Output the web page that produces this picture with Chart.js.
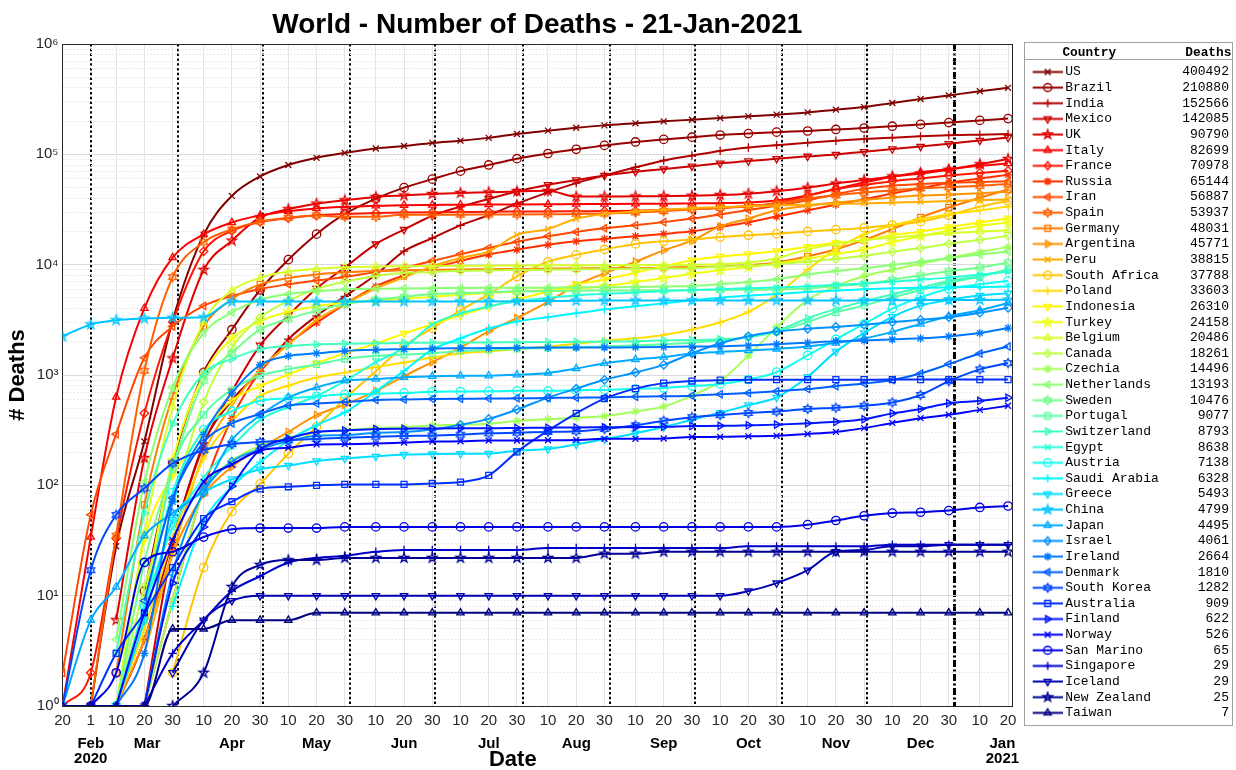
<!DOCTYPE html>
<html>
<head>
<meta charset="utf-8">
<script src="https://cdn.jsdelivr.net/npm/chart.js@4.4.1/dist/chart.umd.min.js"></script>
<style>
html,body{margin:0;padding:0;background:#fff;}
#wrap{width:1236px;height:770px;}
</style>
</head>
<body>
<div id="wrap"><canvas id="c" width="1236" height="770"></canvas></div>
<script>
// ---------------- DATA ----------------
const countries = ['US','Brazil','India','Mexico','UK','Italy','France','Russia','Iran','Spain','Germany','Argentina','Peru','South Africa','Poland','Indonesia','Turkey','Belgium','Canada','Czechia','Netherlands','Sweden','Portugal','Switzerland','Egypt','Austria','Saudi Arabia','Greece','China','Japan','Israel','Ireland','Denmark','South Korea','Australia','Finland','Norway','San Marino','Singapore','Iceland','New Zealand','Taiwan'];
const finalDeaths = [400492,210880,152566,142085,90790,82699,70978,65144,56887,53937,48031,45771,38815,37788,33603,26310,24158,20486,18261,14496,13193,10476,9077,8793,8638,7138,6328,5493,4799,4495,4061,2664,1810,1282,909,622,526,65,29,29,25,7];

const sampleDates = ['2020-02-20','2020-03-01','2020-03-10','2020-03-20','2020-03-30','2020-04-10','2020-04-20','2020-04-30','2020-05-10','2020-05-20','2020-05-30','2020-06-10','2020-06-20','2020-06-30','2020-07-10','2020-07-20','2020-07-30','2020-08-10','2020-08-20','2020-08-30','2020-09-10','2020-09-20','2020-09-30','2020-10-10','2020-10-20','2020-10-30','2020-11-10','2020-11-20','2020-11-30','2020-12-10','2020-12-20','2020-12-30','2021-01-10','2021-01-20'];

const d_US = [null, 1,28,250,3100, 18700,42000,63000, 80000,93000,103000, 113000,119000,127000, 133000,141000,153000, 164000,174000,183000, 191000,199000,206000, 213000,221000,229000, 240000,254000,268000, 292000,317000,342000, 373000,400492];
const d_Brazil = [null, null,null,11,159, 1057,2575,5900, 11100,18900,28800, 39700,49900,59600, 70400,80100,91300, 101800,111100,120500, 129500,136500,143000, 149600,154200,158900, 162800,168100,173100, 179800,186800,193900, 203100,210880];
const d_India = [null, null,1,4,32, 239,590,1075, 2110,3435,5160, 8100,13250,17400, 22700,28100,35700, 45250,54850,64470, 76270,87880,97500, 107400,115200,121100, 127600,132700,137600, 141700,145500,148700, 150800,152566];
const d_Mexico = [null, null,null,1,28, 233,712,1859, 3465,6090,9415, 15357,20781,27769, 33526,39485,46000, 53003,58481,64158, 69649,73697,78078, 83096,86893,91289, 95842,99528,105655, 111655,117876,124897, 133706,142085];
const d_UK = [null, null,6,177,1415, 8958,16509,26771, 31855,35704,38376, 41128,42461,43730, 44650,45312,46084, 46700,41400,41500, 41600,41800,42100, 42800,44000,46300, 49800,54400,58400, 63100,67100,72500, 81400,90790];
const d_Italy = [1, 34,631,4032,11591, 18849,24114,27967, 30560,32330,33340, 34114,34634,34767, 34938,35058,35132, 35209,35412,35477, 35587,35692,35894, 36111,36616,38122, 42330,48569,55576, 62626,68799,73604, 78755,82699];
const d_France = [1, 2,33,450,3024, 13197,20265,24376, 26383,28022,28774, 29322,29640,29843, 29982,30165,30268, 30340,30480,30610, 30800,31250,31960, 32680,33620,36020, 42200,48518,52819, 57000,60500,64200, 67700,70978];
const d_Russia = [null, null,null,1,9, 94,405,1073, 1915,2972,4374, 6358,7972,9306, 10826,12342,13673, 15131,16268,17128, 18080,19006,20056, 21939,24187,27301, 31161,34850,39068, 44159,49151,55265, 60457,65144];
const d_Iran = [2, 54,291,1433,2757, 4232,5209,6028, 6640,7183,7734, 8584,9392,10817, 12447,14188,16147, 18132,19804,21359, 22798,24301,26169, 28544,31346,34113, 38291,43417,48628, 51949,53816,55223, 56262,56887];
const d_Spain = [null, 1,35,1093,7716, 15970,20852,24543, 26621,27888,27125, 27136,28315,28355, 28403,28422,28445, 28576,28813,29011, 29699,30495,31791, 32688,34210,35878, 39756,42619,45069, 47019,49260,50442, 51874,53937];
const d_Germany = [null, null,2,67,645, 2767,4862,6623, 7549,8144,8530, 8767,8882,8976, 9063,9090,9141, 9201,9260,9302, 9342,9390,9534, 9637,9875,10459, 11912,13805,16694, 20970,26813,32946, 40343,48031];
const d_Argentina = [null, null,1,4,24, 82,147,218, 305,433,539, 717,979,1307, 1774,2491,3288, 4606,6517,8353, 10658,13482,16519, 22226,26107,31140, 34183,36532,38473, 40606,42254,43163, 44417,45771];
const d_Peru = [null, null,null,3,24, 193,530,1124, 1889,3148,4371, 6109,7660,9677, 11500,13187,18612, 21072,26075,28788, 30344,31474,32396, 33357,33875,34411, 34993,35402,35923, 36499,37034,37680, 38476,38815];
const d_SouthAfrica = [null, null,null,null,2, 18,58,103, 194,339,611, 1080,1831,2657, 3860,5368,7812, 10621,12264,13743, 15427,16283,16866, 17780,18492,19111, 20011,20759,21535, 22874,24539,28033, 33579,37788];
const d_Poland = [null, null,1,5,33, 174,380,644, 799,948,1051, 1183,1298,1444, 1567,1636,1716, 1809,1917,2035, 2153,2309,2573, 3003,3730,5351, 9037,13774,18828, 22676,25964,28554, 31011,33603];
const d_Indonesia = [null, null,1,32,122, 306,590,792, 1007,1278,1573, 1923,2373,2876, 3469,4143,4838, 5723,6594,7343, 8456,9677,10972, 11844,12511,13299, 14540,15774,16646, 18511,19880,21944, 24129,26310];
const d_Turkey = [null, null,null,9,168, 1006,2140,3081, 3739,4199,4515, 4746,4905,5131, 5344,5526,5691, 5873,6058,6370, 6951,7582,8262, 8895,9513,10252, 11326,12511,13746, 15977,18097,20388, 22450,24158];
const d_Belgium = [null, null,1,37,513, 3019,5828,7594, 8656,9186,9453, 9629,9696,9747, 9781,9800,9830, 9859,9900,9901, 9917,9944,10001, 10099,10443,11452, 13762,15492,16645, 17608,18371,19234, 19973,20486];
const d_Canada = [null, null,1,12,75, 569,1772,3321, 4697,6029,7001, 7912,8408,8591, 8790,8874,8931, 8981,9068,9117, 9163,9228,9297, 9585,9794,10110, 10632,11265,12032, 13109,14154,15472, 16832,18261];
const d_Czechia = [null, null,null,1,9, 88,166,227, 270,302,317, 331,336,349, 354,362,383, 398,410,424, 467,518,651, 880,1500,2700, 4800,6400,7900, 9000,10200,11500, 13000,14496];
const d_Netherlands = [null, null,4,107,772, 2399,3691,4811, 5424,5734,5962, 6053,6095,6113, 6157,6173,6183, 6190,6229,6250, 6280,6326,6400, 6660,6934,7382, 8134,8749,9303, 9906,10624,11494, 12390,13193];
const d_Sweden = [null, null,1,20,146, 887,1580,2586, 3220,3831,4395, 4814,5122,5411, 5500,5619,5730, 5766,5810,5821, 5843,5865,5880, 5893,5918,5947, 6082,6406,6681, 7296,7993,8727, 9433,10476];
const d_Portugal = [null, null,null,6,140, 435,735,989, 1126,1247,1396, 1492,1530,1576, 1646,1689,1727, 1756,1785,1818, 1855,1899,1963, 2050,2198,2468, 3021,3701,4276, 5044,5902,6830, 7803,9077];
const d_Switzerland = [null, null,3,56,359, 1036,1399,1716, 1830,1891,1919, 1936,1956,1962, 1966,1969,1981, 1991,1997,2010, 2023,2060,2073, 2105,2198,2512, 3271,3972,4646, 5403,6189,7100, 7874,8793];
const d_Egypt = [null, null,1,8,41, 118,224,392, 513,645,879, 1306,1766,2872, 3617,4188,4652, 5009,5262,5440, 5580,5750,5901, 6000,6110,6220, 6361,6572,6750, 7000,7302,7631, 8136,8638];
const d_Austria = [null, null,1,8,86, 319,470,584, 614,640,668, 676,688,705, 708,711,718, 719,728,733, 750,763,794, 830,910,1063, 1504,2107,2900, 4000,5050,6040, 6630,7138];
const d_SaudiArabia = [null, null,null,null,8, 47,97,162, 255,351,458, 712,1091,1698, 2151,2635,3055, 3338,3636,3929, 4199,4458,4768, 5018,5255,5420, 5659,5825,5990, 6105,6181,6233, 6283,6328];
const d_Greece = [null, null,1,6,49, 86,114,140, 151,166,175, 183,190,192, 193,194,206, 213,235,262, 297,338,393, 455,534,626, 963,1630,2406, 3370,4257,4788, 5263,5493];
const d_China = [2236, 2872,3139,3253,3309, 3339,4636,4637, 4637,4638,4638, 4640,4640,4641, 4641,4646,4661, 4682,4704,4723, 4733,4737,4739, 4739,4739,4740, 4742,4742,4746, 4752,4764,4779, 4791,4799];
const d_Japan = [1, 6,12,35,56, 94,257,430, 624,771,890, 919,955,972, 982,985,1004, 1045,1143,1279, 1380,1456,1565, 1622,1665,1724, 1812,1950,2139, 2459,2900,3414, 3865,4495];
const d_Israel = [null, null,null,1,16, 86,164,212, 252,281,285, 300,304,320, 354,400,486, 624,752,904, 1054,1236,1571, 1941,2245,2475, 2625,2727,2854, 3019,3161,3338, 3673,4061];
const d_Ireland = [null, null,1,3,71, 288,687,1232, 1488,1571,1652, 1695,1714,1736, 1746,1753,1763, 1773,1775,1777, 1781,1792,1810, 1817,1852,1902, 1965,2022,2050, 2099,2149,2237, 2397,2664];
const d_Denmark = [null, null,null,9,77, 247,364,443, 529,551,568, 593,600,605, 609,611,615, 619,623,626, 635,641,650, 670,687,712, 745,792,836, 901,1030,1255, 1564,1810];
const d_SouthKorea = [1, 17,54,94,158, 208,236,247, 256,263,270, 276,280,282, 288,296,300, 305,309,324, 350,385,415, 433,453,466, 492,505,526, 564,659,879, 1125,1282];
const d_Australia = [null, 1,3,7,18, 50,71,93, 97,100,102, 102,102,104, 107,123,201, 313,450,611, 753,844,882, 898,905,907, 907,907,907, 908,908,909, 909,909];
const d_Finland = [null, null,null,1,13, 42,98,211, 265,304,314, 324,326,328, 329,329,331, 333,335,336, 337,339,345, 346,350,355, 365,376,397, 449,492,555, 583,622];
const d_Norway = [null, null,1,7,32, 108,154,207, 219,235,236, 239,244,249, 251,255,255, 256,258,264, 264,266,274, 275,278,281, 292,305,330, 368,406,436, 483,526];
const d_SanMarino = [null, 1,2,20,25, 34,40,41, 41,41,42, 42,42,42, 42,42,42, 42,42,42, 42,42,42, 42,42,42, 44,48,53, 56,57,59, 63,65];
const d_Singapore = [null, null,null,1,3, 6,11,15, 20,22,23, 25,26,26, 26,26,26, 27,27,27, 27,27,27, 27,28,28, 28,28,28, 29,29,29, 29,29];
const d_Iceland = [null, null,null,null,2, 6,9,10, 10,10,10, 10,10,10, 10,10,10, 10,10,10, 10,10,10, 10,11,13, 17,25,26, 28,28,29, 29,29];
const d_NewZealand = [null, null,null,null,1, 2,12,19, 21,21,22, 22,22,22, 22,22,22, 22,22,24, 24,25,25, 25,25,25, 25,25,25, 25,25,25, 25,25];
const d_Taiwan = [1, 1,1,1,5, 5,6,6, 6,7,7, 7,7,7, 7,7,7, 7,7,7, 7,7,7, 7,7,7, 7,7,7, 7,7,7, 7,7];

const deathSeries = [d_US,d_Brazil,d_India,d_Mexico,d_UK,d_Italy,d_France,d_Russia,d_Iran,d_Spain,d_Germany,d_Argentina,d_Peru,d_SouthAfrica,d_Poland,d_Indonesia,d_Turkey,d_Belgium,d_Canada,d_Czechia,d_Netherlands,d_Sweden,d_Portugal,d_Switzerland,d_Egypt,d_Austria,d_SaudiArabia,d_Greece,d_China,d_Japan,d_Israel,d_Ireland,d_Denmark,d_SouthKorea,d_Australia,d_Finland,d_Norway,d_SanMarino,d_Singapore,d_Iceland,d_NewZealand,d_Taiwan];

// axis ticks
const tickDates = ['2020-02-20','2020-03-01','2020-03-10','2020-03-20','2020-03-30','2020-04-10','2020-04-20','2020-04-30','2020-05-10','2020-05-20','2020-05-30','2020-06-10','2020-06-20','2020-06-30','2020-07-10','2020-07-20','2020-07-30','2020-08-10','2020-08-20','2020-08-30','2020-09-10','2020-09-20','2020-09-30','2020-10-10','2020-10-20','2020-10-30','2020-11-10','2020-11-20','2020-11-30','2020-12-10','2020-12-20','2020-12-30','2021-01-10','2021-01-20'];
const tickLabels = ['20','1','10','20','30','10','20','30','10','20','30','10','20','30','10','20','30','10','20','30','10','20','30','10','20','30','10','20','30','10','20','30','10','20'];
const monthStartDates = ['2020-03-01','2020-04-01','2020-05-01','2020-06-01','2020-07-01','2020-08-01','2020-09-01','2020-10-01','2020-11-01','2020-12-01'];
const yearStartDate = '2021-01-01';
const monthLabelDates = ['2020-03-01','2020-03-21','2020-04-20','2020-05-20','2020-06-20','2020-07-20','2020-08-20','2020-09-20','2020-10-20','2020-11-20','2020-12-20','2021-01-18'];
const monthLabels = [['Feb','2020'],'Mar','Apr','May','Jun','Jul','Aug','Sep','Oct','Nov','Dec',['Jan','2021']];
const yDecadeLabels = ['10\u2070','10\u00b9','10\u00b2','10\u00b3','10\u2074','10\u2075','10\u2076'];
const markerCycle = ['x','o','+','v','p','^','d','*','<','h','s','>'];

// ---------------- HELPERS ----------------
const dayOf = s => { const [y,m,d] = s.split('-').map(Number); return Math.round((Date.UTC(y,m-1,d) - Date.UTC(2020,1,20)) / 864e5); };
const sampleDays = sampleDates.map(dayOf);
const monthStartDays = monthStartDates.map(dayOf);
const yearStartDay = dayOf(yearStartDate);
const xMin = 0, xMax = 336.4;

const xLabelMap = new Map();
monthStartDays.forEach(d => xLabelMap.set(d, ''));
xLabelMap.set(yearStartDay, '');
tickDates.forEach((s, i) => xLabelMap.set(dayOf(s), tickLabels[i]));
const xTickItems = [...xLabelMap.keys()].sort((a,b)=>a-b).map(v => ({value: v}));

const monthMap = new Map();
monthLabelDates.forEach((s, i) => monthMap.set(dayOf(s), monthLabels[i]));
const monthTickItems = [...monthMap.keys()].map(v => ({value: v}));

const yTickItems = [];
for (let e = 0; e < 6; e++) for (let s = 1; s <= 9; s++) yTickItems.push({value: s * Math.pow(10, e), major: s === 1});
yTickItems.push({value: 1e6, major: true});
const isPow10 = v => Math.abs(Math.log10(v) - Math.round(Math.log10(v))) < 1e-9;

function jet(t) {
  const c = v => Math.round(255 * Math.max(0, Math.min(1, v)));
  return 'rgb(' + c(1.5 - Math.abs(4*t - 3)) + ',' + c(1.5 - Math.abs(4*t - 2)) + ',' + c(1.5 - Math.abs(4*t - 1)) + ')';
}

function drawMarker(ctx, m, x, y, r) {
  ctx.beginPath();
  const poly = pts => { pts.forEach((p, i) => i ? ctx.lineTo(p[0], p[1]) : ctx.moveTo(p[0], p[1])); ctx.closePath(); };
  const star = (n, ro, ri) => { const pts = []; for (let k = 0; k < 2*n; k++) { const a = -Math.PI/2 + k*Math.PI/n; const rr = k % 2 ? ri : ro; pts.push([x + rr*Math.cos(a), y + rr*Math.sin(a)]); } poly(pts); };
  const tri = deg => { const pts = []; for (let k = 0; k < 3; k++) { const a = (deg - 90 + k*120) * Math.PI/180; pts.push([x + r*Math.cos(a), y + r*Math.sin(a)]); } poly(pts); };
  const q = r * 0.72;
  switch (m) {
    case 'x': ctx.moveTo(x-q,y-q); ctx.lineTo(x+q,y+q); ctx.moveTo(x+q,y-q); ctx.lineTo(x-q,y+q); break;
    case '+': ctx.moveTo(x-r,y); ctx.lineTo(x+r,y); ctx.moveTo(x,y-r); ctx.lineTo(x,y+r); break;
    case '*': ctx.moveTo(x-r,y); ctx.lineTo(x+r,y); ctx.moveTo(x,y-r); ctx.lineTo(x,y+r); ctx.moveTo(x-q,y-q); ctx.lineTo(x+q,y+q); ctx.moveTo(x+q,y-q); ctx.lineTo(x-q,y+q); break;
    case 'o': ctx.arc(x, y, r, 0, 2*Math.PI); break;
    case 's': ctx.rect(x-q, y-q, 2*q, 2*q); break;
    case 'd': poly([[x,y-r],[x+r*0.8,y],[x,y+r],[x-r*0.8,y]]); break;
    case '^': tri(0); break;
    case '>': tri(90); break;
    case 'v': tri(180); break;
    case '<': tri(270); break;
    case 'p': star(5, r*1.15, r*0.45); break;
    case 'h': star(6, r*1.05, r*0.6); break;
  }
  ctx.stroke();
}

function markerImage(m, color) {
  const cv = document.createElement('canvas'); cv.width = 14; cv.height = 14;
  const g = cv.getContext('2d'); g.strokeStyle = color; g.lineWidth = 1.3;
  drawMarker(g, m, 7, 7, 4.3);
  return cv;
}
function legendIcon(m, color) {
  // 40px wide: left 10px kept empty so the visible sample sits closer to the text
  const cv = document.createElement('canvas'); cv.width = 40; cv.height = 13;
  const g = cv.getContext('2d'); g.strokeStyle = color; g.lineWidth = 2;
  g.beginPath(); g.moveTo(10, 6.5); g.lineTo(40, 6.5); g.stroke();
  g.lineWidth = 1.5; drawMarker(g, m, 25, 6.5, 4);
  return cv;
}

const styleMap = { 'x':['crossRot',0], 'o':['circle',0], '+':['cross',0], 'v':['triangle',180], '^':['triangle',0], 'd':['rectRot',0], '*':['star',0], '<':['triangle',270], 's':['rect',0], '>':['triangle',90] };

const N = countries.length;
const colors = countries.map((c, i) => jet(1 - i/(N-1)));
const markers = countries.map((c, i) => markerCycle[i % markerCycle.length]);
const legendIcons = countries.map((c, i) => legendIcon(markers[i], colors[i]));

const datasets = deathSeries.map((vals, i) => {
  const m = markers[i], sm = styleMap[m];
  return {
    label: countries[i],
    data: vals.map((v, k) => ({x: sampleDays[k], y: v})),
    borderColor: colors[i],
    backgroundColor: colors[i],
    borderWidth: 2,
    pointStyle: sm ? sm[0] : markerImage(m, colors[i]),
    pointRotation: sm ? sm[1] : 0,
    pointRadius: 4.2,
    pointBorderWidth: 1.3,
    pointBorderColor: colors[i],
    pointBackgroundColor: 'rgba(0,0,0,0)',
    cubicInterpolationMode: 'monotone',
    order: N - i
  };
});

const whiteBg = { id: 'whiteBg', beforeDraw(chart) { const c = chart.ctx; c.save(); c.fillStyle = '#fff'; c.fillRect(0, 0, chart.width, chart.height); c.restore(); } };
const legendFrame = {
  id: 'legendFrame',
  afterDraw(chart) {
    const lg = chart.legend; if (!lg || !lg.legendHitBoxes || !lg.legendHitBoxes.length) return;
    const hb = lg.legendHitBoxes, last = hb[hb.length - 1], ctx = chart.ctx;
    ctx.save(); ctx.strokeStyle = '#a0a0a0'; ctx.lineWidth = 1;
    const x0 = Math.round(lg.left) + 0.5, x1 = Math.round(lg.right) - 3.5;
    const y0 = Math.round(chart.chartArea.top) - 1.5, y1 = Math.round(last.top + last.height + 6) + 0.5;
    ctx.strokeRect(x0, y0, x1 - x0, y1 - y0);
    const yh = Math.round(hb[0].top - 6) + 0.5;
    ctx.beginPath(); ctx.moveTo(x0, yh); ctx.lineTo(x1, yh); ctx.stroke();
    ctx.restore();
  }
};

const tickFont = {family: 'Liberation Sans', size: 15};
const axisColor = '#262626';

new Chart(document.getElementById('c'), {
  type: 'line',
  data: { datasets },
  plugins: [whiteBg, legendFrame],
  options: {
    responsive: false, animation: false, devicePixelRatio: 1, events: [],
    layout: { padding: {left: 0, right: 0, top: 0, bottom: 0} },
    scales: {
      x: {
        type: 'linear', position: 'bottom', min: xMin, max: xMax,
        afterBuildTicks: s => { s.ticks = xTickItems.map(t => ({value: t.value})); },
        ticks: { autoSkip: false, maxRotation: 0, minRotation: 0, padding: 6, color: axisColor, font: tickFont,
                 callback: v => xLabelMap.has(v) ? xLabelMap.get(v) : '' },
        grid: {
          drawTicks: false,
          color: c => (c.tick && (c.tick.value === yearStartDay || monthStartDays.includes(c.tick.value))) ? '#000' : '#e3e3e3',
          lineWidth: c => !c.tick ? 1 : (c.tick.value === yearStartDay ? 3 : (monthStartDays.includes(c.tick.value) ? 2 : 1))
        },
        border: { display: true, color: axisColor, width: 1,
          dash: c => !c.tick ? [] : (c.tick.value === yearStartDay ? [7,2.5,2,2.5] : (monthStartDays.includes(c.tick.value) ? [2.4,2.4] : [])) }
      },
      xm: {
        type: 'linear', position: 'bottom', min: xMin, max: xMax,
        afterBuildTicks: s => { s.ticks = monthTickItems.map(t => ({value: t.value})); },
        ticks: { autoSkip: false, maxRotation: 0, minRotation: 0, padding: 0, color: '#000',
                 font: {family: 'Liberation Sans', size: 15, weight: 'bold', lineHeight: 1},
                 callback: v => monthMap.has(v) ? monthMap.get(v) : '' },
        grid: { display: false, drawTicks: false },
        border: { display: false },
        title: { display: true, text: 'Date        ', color: '#000',
                 font: {family: 'Liberation Sans', size: 22, weight: 'bold', lineHeight: 1},
                 padding: {top: -17, bottom: -1} }
      },
      xt: {
        type: 'linear', position: 'top', min: xMin, max: xMax,
        ticks: { display: false }, grid: { display: false, drawTicks: false },
        border: { display: true, color: axisColor, width: 1 }
      },
      y: {
        type: 'logarithmic', position: 'left', min: 1, max: 1e6,
        afterBuildTicks: s => { s.ticks = yTickItems.map(t => ({value: t.value, major: t.major})); },
        ticks: { autoSkip: false, padding: 4, color: axisColor, font: tickFont,
                 callback: v => isPow10(v) ? yDecadeLabels[Math.round(Math.log10(v))] : '' },
        grid: { drawTicks: false, color: c => (c.tick && isPow10(c.tick.value)) ? '#d9d9d9' : '#e4e4e4' },
        border: { display: true, color: axisColor, width: 1, dash: c => (c.tick && !isPow10(c.tick.value)) ? [1.5,2] : [] },
        title: { display: true, text: '# Deaths', color: '#000',
                 font: {family: 'Liberation Sans', size: 22, weight: 'bold'}, padding: {top: 5, bottom: 0} }
      },
      yr: {
        type: 'logarithmic', position: 'right', min: 1, max: 1e6,
        ticks: { display: false },
        grid: { drawOnChartArea: false, drawTicks: true, tickLength: 12, tickColor: 'rgba(0,0,0,0)' },
        border: { display: true, color: axisColor, width: 1 }
      }
    },
    plugins: {
      title: { display: true, fullSize: false, text: 'World - Number of Deaths - 21-Jan-2021', color: '#000',
               font: {family: 'Liberation Sans', size: 28, weight: 'bold', lineHeight: 1.2}, padding: {top: 8.5, bottom: 1.9} },
      tooltip: { enabled: false },
      legend: {
        display: true, position: 'right', align: 'start', fullSize: true, maxWidth: 212,
        title: { display: true, text: '     Country         Deaths', position: 'start', color: '#000',
                 font: {family: 'Liberation Mono', size: 12.8, weight: 'bold'}, padding: {top: 46.6, bottom: 0.9} },
        labels: {
          usePointStyle: true, pointStyleWidth: 32, boxHeight: 13, padding: 2.63, color: '#000',
          font: {family: 'Liberation Mono', size: 13},
          generateLabels: chart => chart.data.datasets.map((ds, i) => ({
            text: countries[i].padEnd(15) + String(finalDeaths[i]).padStart(6),
            fillStyle: 'rgba(0,0,0,0)', strokeStyle: colors[i], lineWidth: 0,
            pointStyle: legendIcons[i], rotation: 0, hidden: false, datasetIndex: i, fontColor: '#000'
          }))
        }
      }
    }
  }
});
</script>
</body>
</html>
